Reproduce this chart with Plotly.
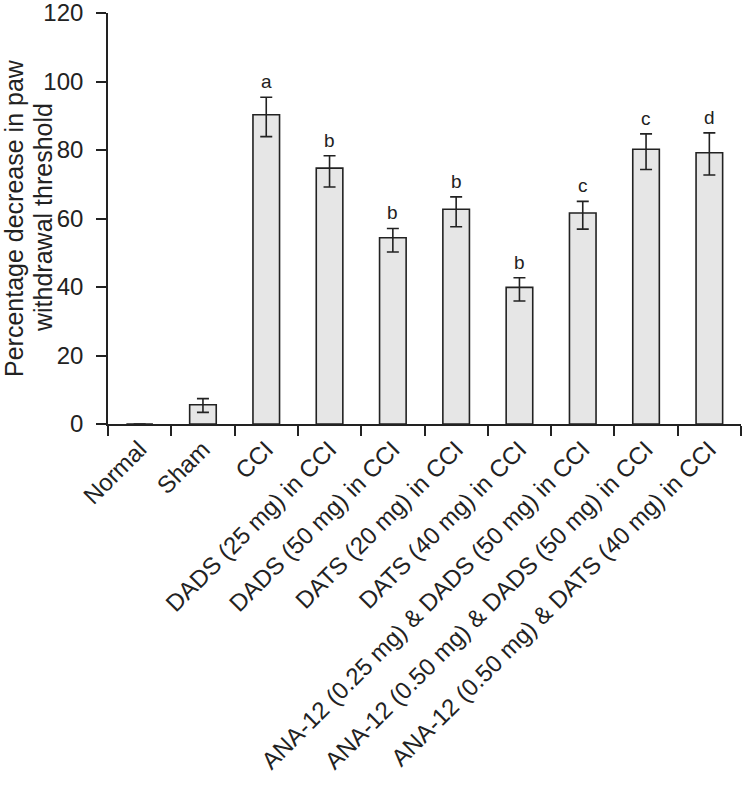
import plotly.graph_objects as go

categories = ["Normal", "Sham", "CCI", "DADS (25 mg) in CCI", "DADS (50 mg) in CCI",
              "DATS (20 mg) in CCI", "DATS (40 mg) in CCI",
              "ANA-12 (0.25 mg) & DADS (50 mg) in CCI",
              "ANA-12 (0.50 mg) & DADS (50 mg) in CCI",
              "ANA-12 (0.50 mg) & DATS (40 mg) in CCI"]
values = [0, 5.6, 90.3, 74.7, 54.4, 62.7, 39.9, 61.6, 80.2, 79.2]
err_plus = [0, 1.8, 5.1, 3.6, 2.7, 3.6, 2.8, 3.4, 4.5, 5.8]
err_minus = [0, 2.2, 6.4, 5.5, 4.2, 5.1, 4.0, 4.7, 5.9, 6.5]
letters = ["", "", "a", "b", "b", "b", "b", "c", "c", "d"]
y_title_lines = ["Percentage decrease in paw", "withdrawal threshold"]

FONT = "Liberation Sans, Arial, Helvetica, sans-serif"
L, R, T, B, W, H = 108, 3, 13, 364, 744, 788
PW, PH = W - L - R, H - T - B

fig = go.Figure()
fig.add_trace(go.Bar(
    x=categories, y=values, width=0.42,
    marker=dict(color="#e6e6e6", line=dict(color="#222222", width=1.6)),
    error_y=dict(type="data", array=err_plus, arrayminus=err_minus, symmetric=False,
                 color="#222222", thickness=1.6, width=6, visible=True),
    showlegend=False, hoverinfo="skip"))

for c, v, e, t in zip(categories, values, err_plus, letters):
    if t:
        fig.add_annotation(x=c, y=v + e, text=t, showarrow=False, yanchor="bottom",
                           yshift=3, font=dict(size=19, color="#222222", family=FONT))

# y-axis title as two rotated lines
for txt, px in zip(y_title_lines, [14, 43]):
    fig.add_annotation(xref="paper", yref="paper", x=(px - L) / PW, y=(H - B - 218) / PH,
                       text=txt, textangle=-90, showarrow=False,
                       xanchor="center", yanchor="middle",
                       font=dict(size=25, color="#222222", family=FONT))

fig.update_layout(
    width=W, height=H,
    margin=dict(l=L, r=R, t=T, b=B),
    plot_bgcolor="white", paper_bgcolor="white",
    font=dict(family=FONT, color="#222222", size=24),
)
fig.update_xaxes(
    type="category", range=[-0.5, 9.5], tickangle=-45,
    showline=True, linecolor="#222222", linewidth=1.6,
    ticks="outside", tickson="boundaries", ticklen=10, tickwidth=1.6, tickcolor="#222222",
    showgrid=False, tickfont=dict(size=24), automargin=False)
fig.update_yaxes(
    range=[0, 120], tickvals=[0, 20, 40, 60, 80, 100, 120],
    showline=True, linecolor="#222222", linewidth=1.6,
    ticks="outside", ticklen=10, tickwidth=1.6, tickcolor="#222222",
    showgrid=False, zeroline=False, tickfont=dict(size=24),
    ticklabelstandoff=8, ticklabeloverflow="allow",
    automargin=False)

fig.write_html("out.html", config={"displayModeBar": False},
               post_script="document.body.style.margin='0';")
